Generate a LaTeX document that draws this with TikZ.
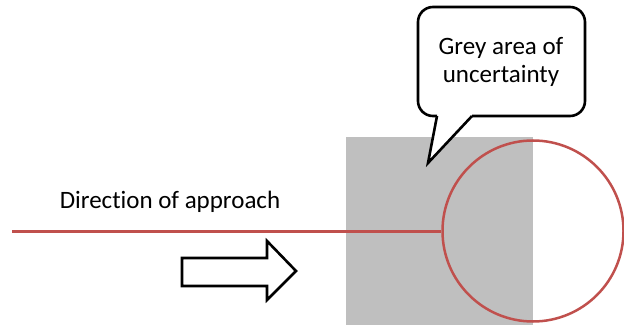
\documentclass[tikz,border=0pt]{standalone}
\usepackage{fontspec}
\setmainfont[Ligatures=NoCommon]{Carlito}
\definecolor{cred}{RGB}{192,80,77}
\definecolor{cgrey}{RGB}{191,191,191}
\tikzset{
  lbl/.style={font=\fontsize{25}{28.5}\selectfont, inner sep=0pt, align=center},
  redline/.style={draw=cred, line width=3pt},
  outline/.style={draw=black, line width=2.6pt, line join=round, fill=white}
}
\begin{document}
\begin{tikzpicture}[x=1pt,y=-1pt]
\useasboundingbox (0,0) rectangle (624,326);
% grey area
\fill[cgrey] (346,137) rectangle (533,325);
% circle
\node[circle, draw=cred, line width=2.5pt, minimum size=181pt, inner sep=0pt] (c) at (533,231) {};
% red approach line
\coordinate (start) at (12,231);
\draw[redline] (start) -- (c.west);
% callout
\fill[white] (437,116) -- (428,163) -- (472,116) -- cycle;
\draw[outline, rounded corners=15pt] (472,116) -- (585,116) -- (585,7) -- (418,7) -- (418,116) -- (437,116);
\fill[white] (438,114) -- (428,163) -- (471,114) -- cycle;
\draw[draw=black, line width=2.6pt, line join=miter] (437,116) -- (428,163) -- (472,116);
\node[lbl] (txt) at (501,62) {Grey area of\\uncertainty};
% direction text
\node[lbl] (dir) at (170,202) {Direction of approach};
% block arrow
\draw[outline, line join=miter] (182,258) -- (267,258) -- (267,241) -- (296,271) -- (267,300) -- (267,286) -- (182,286) -- cycle;
\end{tikzpicture}
\end{document}
